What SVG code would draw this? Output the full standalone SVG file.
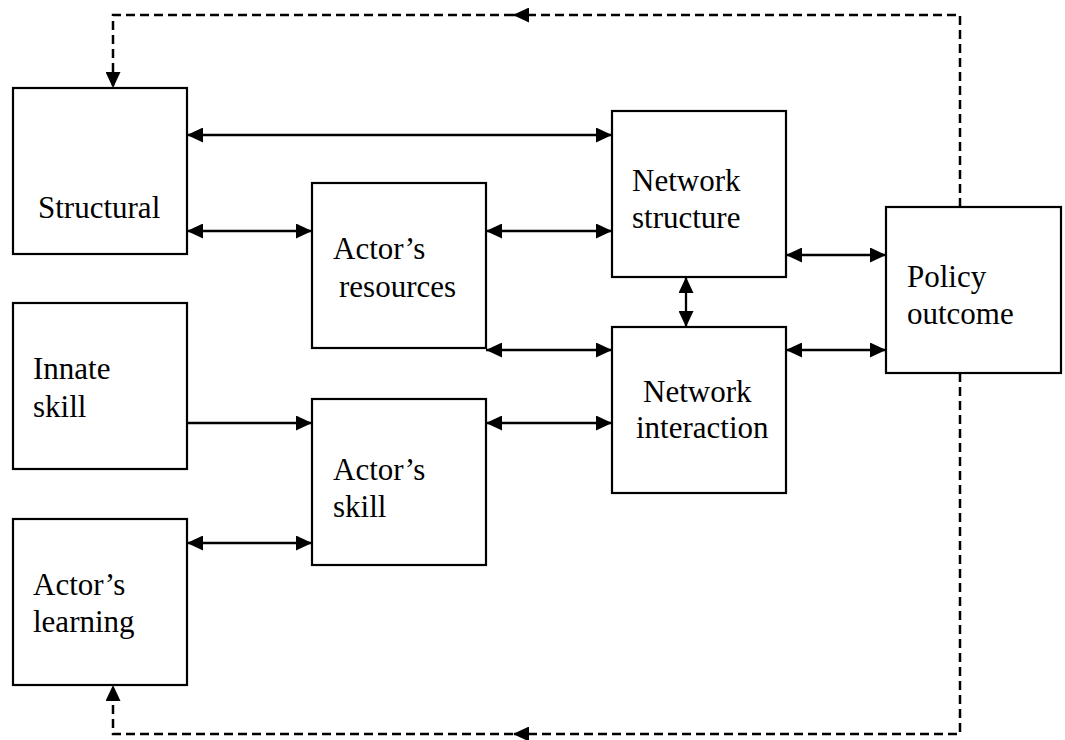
<svg xmlns="http://www.w3.org/2000/svg" width="1065" height="740" viewBox="0 0 1065 740">
<style>
.box{fill:#fff;stroke:#000;stroke-width:2.2}
.lbl{font-family:"Liberation Serif","Times New Roman",serif;font-size:31px;fill:#000}
.c{fill:none;stroke:#000;stroke-width:2.3}
.d{fill:none;stroke:#000;stroke-width:2.5;stroke-dasharray:9 5}
</style>
<defs>
<marker id="ah" markerUnits="userSpaceOnUse" markerWidth="16" markerHeight="15" refX="16" refY="7.5" orient="auto-start-reverse" viewBox="0 0 16 15">
<path d="M0,0 L16,7.5 L0,15 z" fill="#000"/>
</marker>
</defs>
<rect width="1065" height="740" fill="#fff"/>
<g id="connectors">
<path class="c" d="M187,135 H612" marker-start="url(#ah)" marker-end="url(#ah)"/>
<path class="c" d="M187,231 H312" marker-start="url(#ah)" marker-end="url(#ah)"/>
<path class="c" d="M486,231 H612" marker-start="url(#ah)" marker-end="url(#ah)"/>
<path class="c" d="M486,350 H612" marker-start="url(#ah)" marker-end="url(#ah)"/>
<path class="c" d="M786,255 H886" marker-start="url(#ah)" marker-end="url(#ah)"/>
<path class="c" d="M786,350 H886" marker-start="url(#ah)" marker-end="url(#ah)"/>
<path class="c" d="M686,277 V327" marker-start="url(#ah)" marker-end="url(#ah)"/>
<path class="c" d="M187,423 H312" marker-end="url(#ah)"/>
<path class="c" d="M486,423 H612" marker-start="url(#ah)" marker-end="url(#ah)"/>
<path class="c" d="M187,543 H312" marker-start="url(#ah)" marker-end="url(#ah)"/>
<path class="d" d="M960,207 V15 H513" marker-end="url(#ah)"/>
<path class="d" d="M513,15 H113 V88" marker-end="url(#ah)"/>
<path class="d" d="M960,373 V734 H513" marker-end="url(#ah)"/>
<path class="d" d="M513,734 H113 V685" marker-end="url(#ah)"/>
</g>
<g id="structural"><rect class="box" x="13" y="88" width="174" height="166"/><text class="lbl" x="38" y="218">Structural</text></g>
<g id="innate-skill"><rect class="box" x="13" y="303" width="174" height="166"/><text class="lbl" x="33" y="379">Innate</text><text class="lbl" x="33" y="417">skill</text></g>
<g id="actors-learning"><rect class="box" x="13" y="519" width="174" height="166"/><text class="lbl" x="33" y="595">Actor’s</text><text class="lbl" x="33" y="632">learning</text></g>
<g id="actors-resources"><rect class="box" x="312" y="183" width="174" height="165"/><text class="lbl" x="333" y="259">Actor’s</text><text class="lbl" x="339" y="297">resources</text></g>
<g id="actors-skill"><rect class="box" x="312" y="399" width="174" height="166"/><text class="lbl" x="333" y="480">Actor’s</text><text class="lbl" x="333" y="517">skill</text></g>
<g id="network-structure"><rect class="box" x="612" y="111" width="174" height="166"/><text class="lbl" x="632" y="191">Network</text><text class="lbl" x="632" y="228">structure</text></g>
<g id="network-interaction"><rect class="box" x="612" y="327" width="174" height="166"/><text class="lbl" x="643" y="402">Network</text><text class="lbl" x="636" y="438">interaction</text></g>
<g id="policy-outcome"><rect class="box" x="886" y="207" width="175" height="166"/><text class="lbl" x="907" y="287">Policy</text><text class="lbl" x="907" y="324">outcome</text></g>
</svg>
